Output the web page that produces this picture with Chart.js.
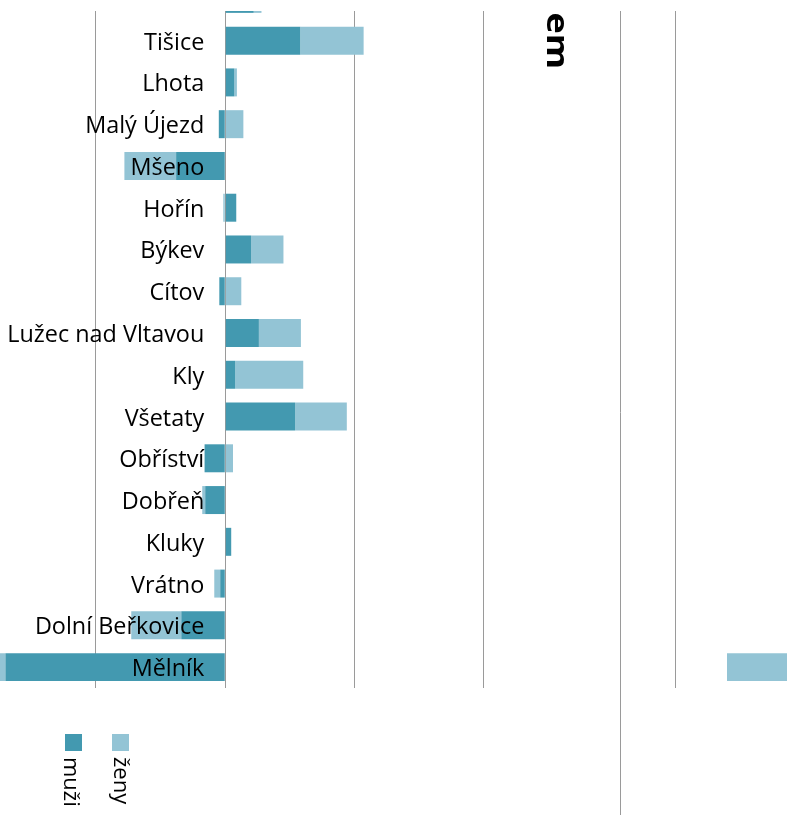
<!DOCTYPE html>
<html lang="cs">
<head>
  <meta charset="UTF-8">
  <title>muži / ženy</title>
  <script src="https://cdn.jsdelivr.net/npm/chart.js"></script>
  <style>
    html, body { margin: 0; padding: 0; background: #fff; overflow: hidden; }
    /* the canvas starts 22px above the window: the top row is cut off */
    .chart-container { position: absolute; left: 0; top: -22px; width: 787px; height: 837px; }
  </style>
</head>
<body>
  <div class="chart-container">
    <canvas id="obce-chart"></canvas>
  </div>
  <script>
    // data (grid step = 100)
    var obce = ['', 'Tišice', 'Lhota', 'Malý Újezd', 'Mšeno', 'Hořín', 'Býkev', 'Cítov',
      'Lužec nad Vltavou', 'Kly', 'Všetaty', 'Obříství', 'Dobřeň', 'Kluky', 'Vrátno',
      'Dolní Beřkovice', 'Mělník'];
    var muzi = [22, 58, 7, -5, -38, 8.5, 20, -4.6, 26, 7.7, 54, -16, -15.5, 4.6, -3.9, -34, -170];
    var zeny = [6, 49, 2, 14, -40, -1.5, 25, 12.4, 32.5, 52.6, 40, 6, -2.3, 0, -4.6, -38.7, -35];
    // stray piece of the ženy bar for Mělník at the right edge
    var zenyPrelom = [null, null, null, null, null, null, null, null, null, null, null, null,
      null, null, null, null, [388, 440]];
    var mrizka = [-100, 0, 100, 200, 348];
    var dlouhaCara = 305;
    var nadpis = 'em';

    var tmava = '#4399b0';
    var svetla = '#93c4d5';
    var seda = '#9a9a9a';
    var posun = 22; // canvas offset against the window

    var kresba = {
      id: 'kresba',
      beforeDraw: function(chart) {
        var ctx = chart.ctx;
        ctx.save();
        ctx.beginPath();
        ctx.rect(0, 11 + posun, chart.width, chart.height);
        ctx.clip();
      },
      beforeDatasetsDraw: function(chart) {
        var ctx = chart.ctx;
        var x = Math.round(chart.scales.x.getPixelForValue(dlouhaCara)) + 0.5;
        ctx.save();
        ctx.strokeStyle = seda;
        ctx.lineWidth = 1;
        ctx.beginPath();
        ctx.moveTo(x, chart.chartArea.top);
        ctx.lineTo(x, chart.height);
        ctx.stroke();
        ctx.restore();
      },
      afterDatasetsDraw: function(chart) {
        var ctx = chart.ctx;
        var xs = chart.scales.x, ys = chart.scales.y;
        var x0 = xs.getPixelForValue(0) - 21;

        ctx.save();
        ctx.fillStyle = '#000';
        ctx.font = '23.4px "Open Sans"';
        ctx.textAlign = 'right';
        ctx.textBaseline = 'alphabetic';
        chart.data.labels.forEach(function(lbl, i) {
          ctx.fillText(lbl, x0, ys.getPixelForValue(i) + 9);
        });

        // title fragment, rotated
        ctx.save();
        ctx.translate(547, posun);
        ctx.rotate(Math.PI / 2);
        ctx.scale(1.2, 1);
        ctx.font = 'bold 30px "Open Sans"';
        ctx.textAlign = 'right';
        ctx.fillText(nadpis, 69 / 1.2, 0);
        ctx.restore();

        // legend with rotated labels
        var legX = [65, 112];
        ctx.font = '22px "Open Sans"';
        ctx.textAlign = 'left';
        [0, 1].forEach(function(d) {
          var ds = chart.data.datasets[d];
          ctx.fillStyle = ds.backgroundColor;
          ctx.fillRect(legX[d], 734 + posun, 17, 17);
          ctx.save();
          ctx.translate(legX[d] - 1 + d * 3, 757 + posun);
          ctx.rotate(Math.PI / 2);
          ctx.fillStyle = '#000';
          ctx.fillText(ds.label, 0, 0);
          ctx.restore();
        });
        ctx.restore();
      },
      afterDraw: function(chart) {
        chart.ctx.restore();
      }
    };

    new Chart(document.getElementById('obce-chart'), {
      type: 'bar',
      data: {
        labels: obce,
        datasets: [{
          label: 'muži',
          data: muzi,
          backgroundColor: tmava,
          stack: 'obyv'
        }, {
          label: 'ženy',
          data: zeny,
          backgroundColor: svetla,
          stack: 'obyv'
        }, {
          label: 'ženy',
          data: zenyPrelom,
          backgroundColor: svetla,
          stack: 'prelom',
          grouped: false
        }]
      },
      options: {
        indexAxis: 'y',
        responsive: true,
        maintainAspectRatio: false,
        animation: false,
        layout: { padding: { top: 0, bottom: 127, left: 0, right: 0 } },
        datasets: { bar: { categoryPercentage: 1, barPercentage: 0.67, borderWidth: 0 } },
        plugins: { legend: { display: false }, tooltip: { enabled: false } },
        scales: {
          x: {
            stacked: true,
            min: -174.2,
            max: 434.4,
            afterBuildTicks: function(scale) {
              scale.ticks = mrizka.map(function(v) { return { value: v }; });
            },
            ticks: { display: false },
            border: { display: false },
            grid: { color: seda, lineWidth: 1, drawTicks: false }
          },
          y: {
            stacked: true,
            display: false
          }
        }
      },
      plugins: [kresba]
    });
  </script>
</body>
</html>
